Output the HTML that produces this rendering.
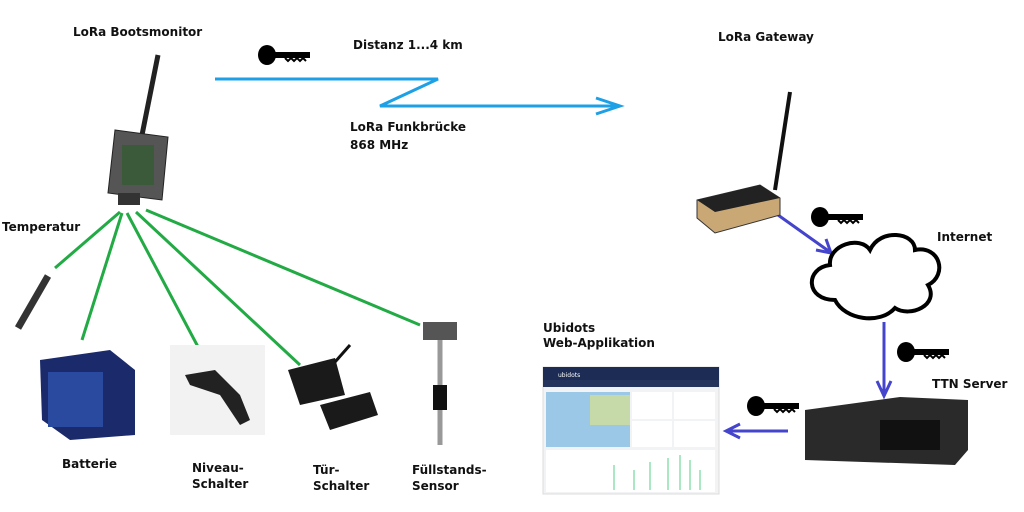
<!DOCTYPE html>
<html><head><meta charset="utf-8"><style>
html,body{margin:0;padding:0;background:#fff;}
svg{display:block}
text{font-family:"DejaVu Sans","Liberation Sans",sans-serif;font-weight:bold;font-size:12px;fill:#111}
</style></head><body>
<svg width="1024" height="512" viewBox="0 0 1024 512" xmlns="http://www.w3.org/2000/svg">
<defs>
<g id="key"><ellipse cx="10" cy="10" rx="9" ry="10" fill="#000"/><rect x="15" y="7" width="38" height="6" fill="#000"/><path d="M28 13 l3 3 l3 -3 l3 3 l3 -3 l3 3 l3 -3 l3 3" stroke="#000" stroke-width="2" fill="none"/></g>
</defs>
<text x="73" y="36">LoRa Bootsmonitor</text>
<text x="353" y="49">Distanz 1...4 km</text>
<text x="350" y="131">LoRa Funkbrücke</text>
<text x="350" y="149">868 MHz</text>
<text x="718" y="41">LoRa Gateway</text>
<text x="937" y="241">Internet</text>
<text x="932" y="388">TTN Server</text>
<text x="543" y="332">Ubidots</text>
<text x="543" y="347">Web-Applikation</text>
<text x="2" y="231">Temperatur</text>
<text x="62" y="468">Batterie</text>
<text x="192" y="472">Niveau-</text>
<text x="192" y="488">Schalter</text>
<text x="313" y="474">Tür-</text>
<text x="313" y="490">Schalter</text>
<text x="412" y="474">Füllstands-</text>
<text x="412" y="490">Sensor</text>
<use href="#key" x="257" y="45"/>
<use href="#key" x="810" y="207"/>
<use href="#key" x="896" y="342"/>
<use href="#key" x="746" y="396"/>
<path d="M215 79 L438 79 L380 106 L618 106" stroke="#1ea0e6" stroke-width="3" fill="none"/>
<path d="M596 98 L620 106 L596 114" stroke="#1ea0e6" stroke-width="3" fill="none"/>
<g stroke="#4444cc" stroke-width="3" fill="none">
<path d="M778 215 L830 252"/><path d="M816 250 L831 253 L826 239"/>
<path d="M884 322 L884 395"/><path d="M877 381 L884 396 L891 381"/>
<path d="M788 431 L727 431"/><path d="M740 424 L726 431 L740 438"/>
</g>
<path d="M835 300 C805 300 805 268 830 265 C828 245 860 235 870 250 C880 228 915 232 915 250 C940 245 948 275 928 285 C940 305 910 318 895 308 C880 325 845 320 835 300 Z" fill="#fff" stroke="#000" stroke-width="4"/>
<line x1="775" y1="190" x2="790" y2="92" stroke="#111" stroke-width="4"/>
<path d="M697 200 L760 185 L780 198 L780 215 L715 233 L697 218 Z" fill="#c9a876" stroke="#333"/>
<path d="M697 200 L760 185 L780 198 L715 212 Z" fill="#222"/>
<path d="M805 410 L900 397 L968 400 L968 450 L955 465 L805 460 Z" fill="#2a2a2a"/>
<rect x="880" y="420" width="60" height="30" fill="#111"/>
<rect x="543" y="367" width="176" height="127" fill="#f2f3f5" stroke="#ddd"/>
<rect x="543" y="367" width="176" height="13" fill="#1c2c54"/>
<rect x="543" y="380" width="176" height="7" fill="#24345c"/>
<text x="558" y="377" style="font-size:6px;fill:#fff;font-weight:normal">ubidots</text>
<rect x="546" y="392" width="84" height="55" fill="#9cc8e8"/>
<rect x="590" y="395" width="40" height="30" fill="#c6d9a8"/>
<rect x="632" y="392" width="40" height="27" fill="#fff"/><rect x="674" y="392" width="41" height="27" fill="#fff"/>
<rect x="632" y="421" width="40" height="26" fill="#fff"/><rect x="674" y="421" width="41" height="26" fill="#fff"/>
<rect x="546" y="450" width="169" height="42" fill="#fff"/>
<g stroke="#8de0b0" stroke-width="1.5"><line x1="614" y1="490" x2="614" y2="465"/><line x1="634" y1="490" x2="634" y2="470"/><line x1="650" y1="490" x2="650" y2="462"/><line x1="668" y1="490" x2="668" y2="458"/><line x1="680" y1="490" x2="680" y2="455"/><line x1="690" y1="490" x2="690" y2="460"/><line x1="700" y1="490" x2="700" y2="470"/></g>
<line x1="142" y1="135" x2="158" y2="55" stroke="#222" stroke-width="5"/>
<path d="M115 130 L168 137 L162 200 L108 193 Z" fill="#555" stroke="#222"/>
<rect x="122" y="145" width="32" height="40" fill="#3a5a3a"/>
<rect x="118" y="193" width="22" height="12" fill="#333"/>
<g stroke="#22aa44" stroke-width="3">
<line x1="120" y1="212" x2="55" y2="268"/>
<line x1="122" y1="213" x2="82" y2="340"/>
<line x1="127" y1="213" x2="205" y2="360"/>
<line x1="136" y1="212" x2="300" y2="365"/>
<line x1="146" y1="210" x2="420" y2="325"/>
</g>
<line x1="18" y1="328" x2="48" y2="276" stroke="#333" stroke-width="7"/>
<path d="M40 360 L110 350 L135 370 L135 435 L70 440 L42 420 Z" fill="#1a2a6a"/>
<rect x="48" y="372" width="55" height="55" fill="#2a4aa0"/>
<rect x="170" y="345" width="95" height="90" fill="#f2f2f2"/>
<path d="M185 375 L215 370 L240 395 L250 420 L240 425 L220 395 L190 385 Z" fill="#222"/>
<path d="M288 370 L335 358 L345 395 L300 405 Z" fill="#1a1a1a"/>
<path d="M320 405 L370 392 L378 415 L330 430 Z" fill="#1a1a1a"/>
<line x1="335" y1="362" x2="350" y2="345" stroke="#111" stroke-width="3"/>
<rect x="423" y="322" width="34" height="18" fill="#555"/>
<line x1="440" y1="340" x2="440" y2="445" stroke="#999" stroke-width="5"/>
<rect x="433" y="385" width="14" height="25" fill="#111"/>
</svg>
</body></html>
